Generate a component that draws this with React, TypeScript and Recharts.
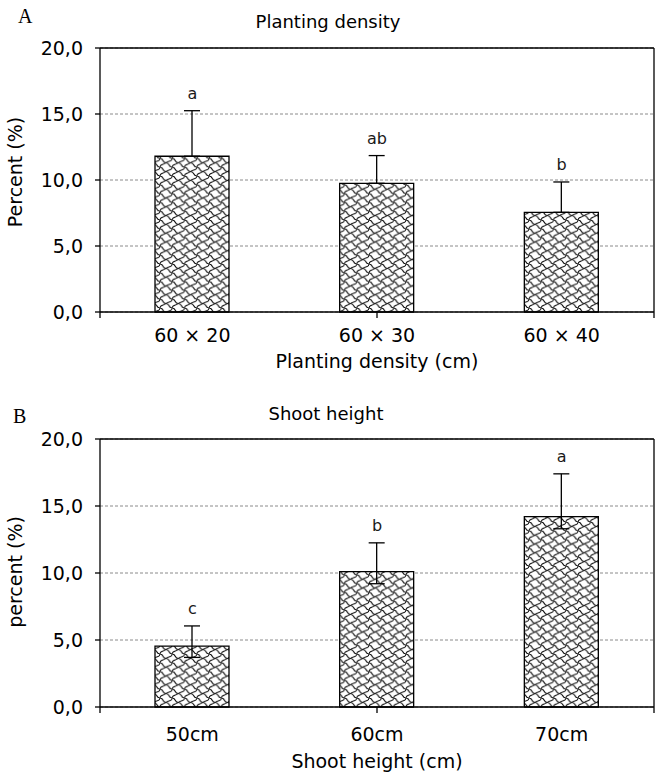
import React from 'react';
import {
  ComposedChart,
  Bar,
  Line,
  XAxis,
  YAxis,
  CartesianGrid,
  ErrorBar,
  LabelList,
} from 'recharts';

// ---- Data ----
const densityCategories = ['60 × 20', '60 × 30', '60 × 40'];
const densityValues = [11.8, 9.75, 7.55];
const densityErrLow = [0, 0, 0];
const densityErrHigh = [3.45, 2.1, 2.3];
const densityLetters = ['a', 'ab', 'b'];

const heightCategories = ['50cm', '60cm', '70cm'];
const heightValues = [4.55, 10.1, 14.2];
const heightErrLow = [0.85, 0.9, 0.9];
const heightErrHigh = [1.5, 2.15, 3.2];
const heightLetters = ['c', 'b', 'a'];

const yTicks = [0, 5, 10, 15, 20];
const boundaryTicks = [0, 1, 2, 3];

const FONT = '"DejaVu Sans", sans-serif';

function buildRows(cats: string[], vals: number[], lo: number[], hi: number[], letters: string[]) {
  return cats.map((c, i) => ({
    cat: c,
    value: vals[i],
    err: [lo[i], hi[i]],
    top: vals[i] + hi[i],
    letter: letters[i],
  }));
}

const densityRows = buildRows(densityCategories, densityValues, densityErrLow, densityErrHigh, densityLetters);
const heightRows = buildRows(heightCategories, heightValues, heightErrLow, heightErrHigh, heightLetters);

const fmt = (v: number) => v.toFixed(1).replace('.', ',');

function LetterLabel(props: any) {
  const { x, y, value } = props;
  return (
    <text x={x} y={y - 12} textAnchor="middle" fontSize={16} fontFamily={FONT} fill="#1a1a1a">
      {value}
    </text>
  );
}

function Pattern({ id }: { id: string }) {
  return (
    <defs>
      <pattern id={id} patternUnits="userSpaceOnUse" width={12.3} height={8.8}>
        <rect x={0} y={0} width={12.3} height={8.8} fill="#fff" />
        <path
          d="M0,0 C4,0 2,4.4 6.15,4.4 C10.3,4.4 8.3,8.8 12.3,8.8"
          fill="none"
          stroke="#000"
          strokeWidth={1}
        />
        <path d="M0,8.8 C0,5 4,6.5 6.15,4.4" fill="none" stroke="#000" strokeWidth={1} />
        <path d="M6.15,4.4 C8.3,2.3 12.3,3.8 12.3,0" fill="none" stroke="#000" strokeWidth={1} />
      </pattern>
    </defs>
  );
}

function Panel({
  rows,
  patternId,
  height,
  marginTop,
  marginBottom,
  tickGap,
}: {
  rows: any[];
  patternId: string;
  height: number;
  marginTop: number;
  marginBottom: number;
  tickGap: number;
}) {
  return (
    <ComposedChart
      width={656}
      height={height}
      data={rows}
      margin={{ top: marginTop, right: 1, bottom: marginBottom, left: 40 }}
    >
      <Pattern id={patternId} />
      <CartesianGrid
        xAxisId="cat"
        yAxisId="left"
        vertical={false}
        stroke="#8a8a8a"
        strokeDasharray="3 2"
      />
      <XAxis
        xAxisId="bnd"
        type="number"
        domain={[0, 3]}
        ticks={boundaryTicks}
        allowDataOverflow
        height={1}
        stroke="#000"
        strokeWidth={1.3}
        axisLine={true}
        tickLine={true}
        tickSize={6}
        tickFormatter={() => ''}
        interval={0}
      />
      <XAxis
        xAxisId="cat"
        dataKey="cat"
        type="category"
        height={1}
        axisLine={false}
        tickLine={false}
        tickSize={0}
        tickMargin={tickGap}
        interval={0}
        tick={{ fill: '#000', fontSize: 19, fontFamily: FONT }}
      />
      <XAxis
        xAxisId="top"
        dataKey="cat"
        orientation="top"
        height={1}
        tick={false}
        tickLine={false}
        stroke="#000"
        strokeWidth={1.3}
        axisLine={true}
      />
      <YAxis
        yAxisId="left"
        width={60}
        domain={[0, 20]}
        ticks={yTicks}
        interval={0}
        tickFormatter={fmt}
        stroke="#000"
        strokeWidth={1.3}
        axisLine={true}
        tickLine={true}
        tickSize={5}
        tickMargin={12}
        tick={{ fill: '#000', fontSize: 19, fontFamily: FONT }}
      />
      <YAxis
        yAxisId="right"
        orientation="right"
        width={1}
        domain={[0, 20]}
        tick={false}
        tickLine={false}
        stroke="#000"
        strokeWidth={1.3}
        axisLine={true}
      />
      <Bar
        xAxisId="cat"
        yAxisId="left"
        dataKey="value"
        fill={`url(#${patternId})`}
        stroke="#000"
        strokeWidth={1.3}
        barSize={74}
        isAnimationActive={false}
      >
        <ErrorBar dataKey="err" direction="y" width={8} stroke="#000" strokeWidth={1.3} />
      </Bar>
      <Line
        xAxisId="cat"
        yAxisId="left"
        dataKey="top"
        stroke="none"
        dot={false}
        activeDot={false}
        legendType="none"
        isAnimationActive={false}
      >
        <LabelList dataKey="letter" content={LetterLabel} />
      </Line>
    </ComposedChart>
  );
}

export default function App() {
  const txt = { fontFamily: FONT, fill: '#000' } as const;
  return (
    <div
      style={{
        position: 'absolute',
        left: 0,
        top: 0,
        width: 656,
        height: 774,
        background: '#fff',
        overflow: 'hidden',
      }}
    >
      <div style={{ position: 'absolute', left: 0, top: 0 }}>
        <Panel rows={densityRows} patternId="patA" height={390} marginTop={47} marginBottom={76} tickGap={16} />
      </div>
      <div style={{ position: 'absolute', left: 0, top: 390 }}>
        <Panel rows={heightRows} patternId="patB" height={384} marginTop={48} marginBottom={65} tickGap={20} />
      </div>
      <svg
        width={656}
        height={774}
        style={{ position: 'absolute', left: 0, top: 0, pointerEvents: 'none' }}
      >
        <text x={18} y={23} fontFamily='"Liberation Serif", serif' fontSize={20} fill="#000">A</text>
        <text x={328} y={28} textAnchor="middle" fontSize={18} {...txt}>Planting density</text>
        <text
          x={22}
          y={172}
          textAnchor="middle"
          fontSize={19}
          transform="rotate(-90 22 172)"
          {...txt}
        >
          Percent (%)
        </text>
        <text x={377} y={368} textAnchor="middle" fontSize={19} {...txt}>Planting density (cm)</text>

        <text x={13} y={423} fontFamily='"Liberation Serif", serif' fontSize={20} fill="#000">B</text>
        <text x={326} y={420} textAnchor="middle" fontSize={18} {...txt}>Shoot height</text>
        <text
          x={22}
          y={572}
          textAnchor="middle"
          fontSize={19}
          transform="rotate(-90 22 572)"
          {...txt}
        >
          percent (%)
        </text>
        <text x={377} y={768} textAnchor="middle" fontSize={19} {...txt}>Shoot height (cm)</text>
      </svg>
    </div>
  );
}
